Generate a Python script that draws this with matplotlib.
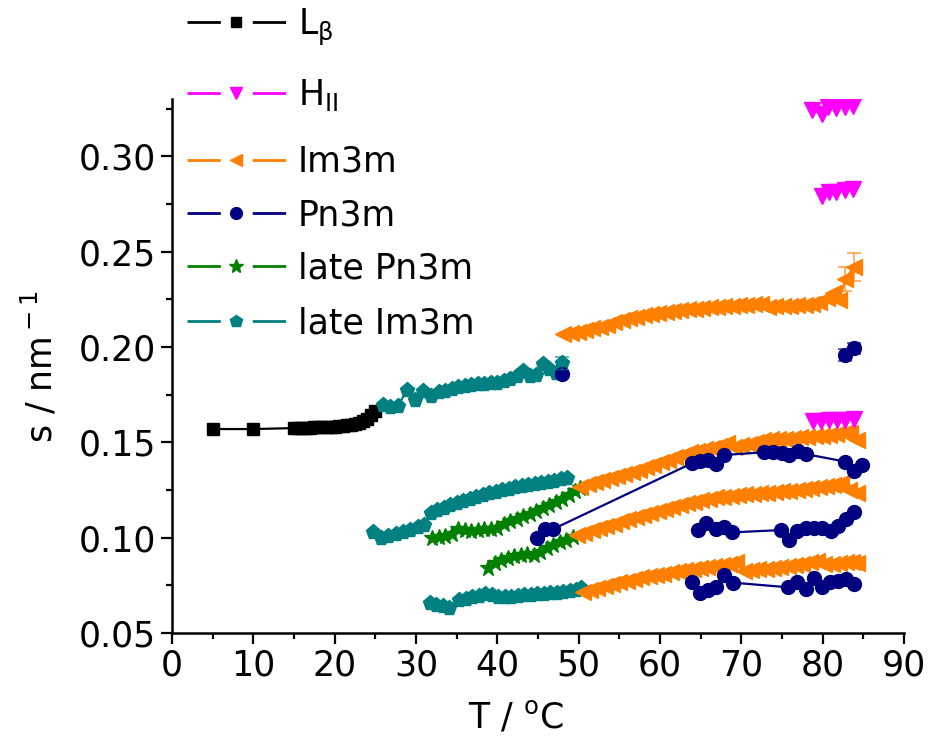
import matplotlib
matplotlib.use('Agg')
import matplotlib.pyplot as plt
from matplotlib.lines import Line2D
from matplotlib.legend_handler import HandlerTuple
from matplotlib.ticker import MultipleLocator

plt.rcParams['font.family'] = ['DejaVu Sans']
plt.rcParams['mathtext.fontset'] = 'dejavusans'
plt.rcParams['lines.scale_dashes'] = False

# L_beta
lb_T = [5, 10, 15, 15.5, 16, 16.5, 17, 17.5, 18, 18.5, 19, 19.5, 20, 20.5, 21, 21.5,
        22, 22.5, 23, 23.5, 24, 24.5, 25]
lb_s = [0.157, 0.157, 0.1575, 0.1576, 0.1577, 0.1577, 0.1578, 0.1579, 0.158, 0.158,
        0.1581, 0.1582, 0.1583, 0.1585, 0.1587, 0.1589, 0.1592, 0.1596, 0.160, 0.1612,
        0.1625, 0.1645, 0.1665]

# H_II (three reflections)
h1_T = [78.7, 79.9, 80.7, 81.7, 82.7, 83.7]
h1_s = [0.3244, 0.3223, 0.3258, 0.3253, 0.3261, 0.3265]
h2_T = [79.9, 80.8, 81.7, 82.7, 83.7]
h2_s = [0.2793, 0.2812, 0.2815, 0.2822, 0.2830]
h3_T = [78.8, 79.8, 80.8, 81.8, 82.8, 83.8]
h3_s = [0.1610, 0.1612, 0.1615, 0.1617, 0.1620, 0.1622]

# Im3m (four reflections)
im1_T = [48.1, 49, 49.9, 50.8, 51.7, 52.6, 53.5, 54.4, 55.3, 56.2, 57.1, 58, 58.9, 59.8,
         60.7, 61.6, 62.5, 63.4, 64.3, 65.2, 66.1, 67, 67.9, 68.8, 69.7, 70.6, 71.5,
         72.4, 73.3, 74.2, 75.1, 76, 76.9, 77.8, 78.7, 79.6, 80.5, 81.3, 82, 82.8, 83.8]
im1_s = [0.2068, 0.2072, 0.2078, 0.2090, 0.2100, 0.2108, 0.2118, 0.2130, 0.2140, 0.2152,
         0.2160, 0.2168, 0.2175, 0.2180, 0.2185, 0.2190, 0.2195, 0.2198, 0.2200, 0.2205,
         0.2210, 0.2212, 0.2215, 0.2218, 0.2220, 0.2222, 0.2225, 0.2228, 0.2212, 0.2215,
         0.2215, 0.2218, 0.2220, 0.2222, 0.2228, 0.2235, 0.2260, 0.2285, 0.2245, 0.2357,
         0.2420]
im2_T = [50.2, 51.1, 52, 52.9, 53.8, 54.7, 55.6, 56.5, 57.4, 58.3, 59.2, 60.1, 61, 61.9,
         62.8, 63.7, 64.6, 65.5, 66.4, 67.3, 68.2, 69.1, 70, 70.9, 71.8, 72.7, 73.6, 74.5,
         75.4, 76.3, 77.2, 78.1, 79, 79.9, 80.8, 81.7, 82.6, 83.4, 84.2]
im2_s = [0.1268, 0.1280, 0.1292, 0.1303, 0.1314, 0.1325, 0.1335, 0.1346, 0.1357, 0.1370,
         0.1382, 0.1395, 0.1408, 0.1421, 0.1435, 0.1448, 0.1457, 0.1465, 0.1473, 0.1481,
         0.1495, 0.1478, 0.1485, 0.1492, 0.1500, 0.1510, 0.1520, 0.1518, 0.1520, 0.1523,
         0.1527, 0.1530, 0.1533, 0.1536, 0.1540, 0.1543, 0.1547, 0.1550, 0.1513]
im3_T = [49.8, 50.7, 51.6, 52.5, 53.4, 54.3, 55.2, 56.1, 57, 57.9, 58.8, 59.7, 60.6, 61.5,
         62.4, 63.3, 64.2, 65.1, 66, 66.9, 67.8, 68.7, 69.6, 70.5, 71.4, 72.3, 73.2, 74.1,
         75, 75.9, 76.8, 77.7, 78.6, 79.5, 80.4, 81.3, 82.2, 83.2, 84.2]
im3_s = [0.1014, 0.1026, 0.1038, 0.1050, 0.1062, 0.1074, 0.1086, 0.1097, 0.1108, 0.1119,
         0.1130, 0.1140, 0.1150, 0.1160, 0.1170, 0.1180, 0.1189, 0.1198, 0.1205, 0.1211,
         0.1216, 0.1220, 0.1224, 0.1227, 0.1230, 0.1233, 0.1236, 0.1240, 0.1243, 0.1247,
         0.1251, 0.1255, 0.1259, 0.1264, 0.1269, 0.1275, 0.1287, 0.1250, 0.1235]
im4_T = [50.5, 51.4, 52.3, 53.2, 54.1, 55, 55.9, 56.8, 57.7, 58.6, 59.5, 60.4, 61.3, 62.2,
         63.1, 64, 64.9, 65.8, 66.7, 67.6, 68.5, 69.4, 70.3, 71.2, 72.1, 73, 73.9, 74.8,
         75.7, 76.6, 77.5, 78.4, 79.3, 80.2, 81.1, 82, 82.9, 83.6, 84.2]
im4_s = [0.0717, 0.0728, 0.0738, 0.0748, 0.0757, 0.0766, 0.0775, 0.0784, 0.0792, 0.0799,
         0.0806, 0.0812, 0.0818, 0.0824, 0.0829, 0.0834, 0.0839, 0.0844, 0.0849, 0.0855,
         0.0862, 0.0870, 0.0825, 0.0830, 0.0834, 0.0838, 0.0842, 0.0846, 0.0850, 0.0855,
         0.0862, 0.0870, 0.0880, 0.0860, 0.0864, 0.0867, 0.0870, 0.0872, 0.0868]

# Pn3m
pn1_T = [44.9, 45.9, 46.9, 63.9, 64.9, 65.9, 66.9, 67.9, 72.8, 73.9, 75.0, 75.9, 77.0,
         78.0, 82.8, 83.9, 84.8]
pn1_s = [0.0998, 0.1046, 0.1046, 0.1390, 0.1404, 0.1408, 0.1387, 0.1434, 0.1448, 0.1448,
         0.1446, 0.1434, 0.1457, 0.1438, 0.1399, 0.1352, 0.1381]
pn2_T = [64.7, 65.7, 66.9, 67.9, 68.9, 74.9, 75.9, 76.9, 77.9, 78.9, 79.9, 81.0, 81.9,
         82.9, 83.9]
pn2_s = [0.1040, 0.1075, 0.1046, 0.1058, 0.1028, 0.1040, 0.0988, 0.1037, 0.1049, 0.1049,
         0.1049, 0.1037, 0.1061, 0.1097, 0.1136]
pn3_T = [63.9, 64.9, 65.9, 66.9, 67.9, 69.0, 75.7, 76.9, 77.9, 78.9, 79.9, 80.9, 81.9,
         82.9, 83.9]
pn3_s = [0.0769, 0.0708, 0.0726, 0.0743, 0.0804, 0.0764, 0.0740, 0.0769, 0.0729, 0.0787,
         0.0740, 0.0769, 0.0774, 0.0782, 0.0757]
pn4_T = [48.0]
pn4_s = [0.1857]
pn5_T = [82.8, 83.8]
pn5_s = [0.1959, 0.1994]

# late Pn3m
lp1_T = [32.0, 32.8, 33.6, 34.4, 35.2, 36.0, 36.8, 37.6, 38.4, 39.2, 40.0, 40.8, 41.6,
         42.4, 43.2, 44.0, 44.8, 45.6, 46.4, 47.2, 48.0, 48.8, 49.6, 50.2]
lp1_s = [0.0998, 0.1003, 0.1010, 0.1018, 0.1046, 0.1040, 0.1036, 0.1042, 0.1045, 0.1048,
         0.1052, 0.1070, 0.1085, 0.1098, 0.1112, 0.1125, 0.1140, 0.1155, 0.1170, 0.1185,
         0.1205, 0.1225, 0.1245, 0.1260]
lp2_T = [38.9, 39.7, 40.5, 41.3, 42.1, 42.9, 43.7, 44.5, 45.3, 46.1, 46.9, 47.7, 48.5,
         49.3]
lp2_s = [0.0841, 0.0868, 0.0885, 0.0895, 0.0902, 0.0908, 0.0912, 0.0910, 0.0925, 0.0945,
         0.0960, 0.0975, 0.0990, 0.1005]

# late Im3m
li1_T = [25.9, 26.8, 27.8, 28.9, 29.9, 30.9, 31.9, 32.8, 33.6, 34.4, 35.2, 36, 36.8,
         37.6, 38.4, 39.2, 40, 40.8, 41.6, 42.4, 43.2, 44, 44.8, 45.6, 46.4, 47.2, 48]
li1_s = [0.1695, 0.1686, 0.1692, 0.1775, 0.1720, 0.1772, 0.1742, 0.1765, 0.1772, 0.1780,
         0.1790, 0.1795, 0.1800, 0.1805, 0.1805, 0.1810, 0.1812, 0.1820, 0.1830, 0.1850,
         0.1872, 0.1850, 0.1855, 0.1910, 0.1885, 0.1865, 0.1915]
li2_T = [24.7, 25.7, 26.6, 27.5, 28.4, 29.3, 30.2, 31.0, 31.8, 32.6, 33.4, 34.2, 35.0,
         35.8, 36.6, 37.4, 38.2, 39.0, 39.8, 40.6, 41.4, 42.2, 43.0, 43.8, 44.6, 45.4,
         46.2, 47.0, 47.8, 48.6]
li2_s = [0.1030, 0.0998, 0.1008, 0.1018, 0.1030, 0.1042, 0.1055, 0.1068, 0.1130, 0.1145,
         0.1158, 0.1170, 0.1182, 0.1192, 0.1202, 0.1212, 0.1222, 0.1232, 0.1242, 0.1250,
         0.1258, 0.1265, 0.1272, 0.1278, 0.1283, 0.1288, 0.1294, 0.1300, 0.1306, 0.1315]
li3_T = [31.7, 32.5, 33.3, 34.1, 35.3, 36.1, 36.9, 37.7, 38.5, 39.3, 40.1, 40.9, 41.7,
         42.5, 43.3, 44.1, 44.9, 45.7, 46.5, 47.3, 48.1, 48.9, 49.7, 50.3]
li3_s = [0.0656, 0.0648, 0.0640, 0.0632, 0.0672, 0.0680, 0.0688, 0.0696, 0.0702, 0.0700,
         0.0690, 0.0688, 0.0690, 0.0695, 0.0698, 0.0700, 0.0702, 0.0705, 0.0708, 0.0710,
         0.0714, 0.0718, 0.0725, 0.0735]

# the few visible error bars
err_T = [82.8, 83.8, 48.0, 82.8, 83.8, 48.0]
err_s = [0.2357, 0.2420, 0.1915, 0.1959, 0.1994, 0.1857]
err_e = [0.0065, 0.0075, 0.0035, 0.003, 0.003, 0.0015]
err_c = ['#FF8000', '#FF8000', '#008080', '#000080', '#000080', '#000080']

labels = [r'L$_\mathrm{β}$', r'H$_\mathrm{II}$', 'Im3m', 'Pn3m', 'late Pn3m', 'late Im3m']
colors = ['black', '#FF00FF', '#FF8000', '#000080', '#008000', '#008080']
markers = ['s', 'v', '<', 'o', '*', 'p']
msizes = [9, 11, 11, 10, 12, 11]
# vertical pixel position (from top) of each legend row
leg_rows = [27, 95, 162, 215, 268, 323]

fig = plt.figure(figsize=(9.29, 7.40), dpi=100)
ax = fig.add_axes([0.1851, 0.1446, 0.788, 0.7212])

groups = [
    [(lb_T, lb_s)],
    [(h1_T, h1_s), (h2_T, h2_s), (h3_T, h3_s)],
    [(im1_T, im1_s), (im2_T, im2_s), (im3_T, im3_s), (im4_T, im4_s)],
    [(pn1_T, pn1_s), (pn2_T, pn2_s), (pn3_T, pn3_s), (pn4_T, pn4_s), (pn5_T, pn5_s)],
    [(lp1_T, lp1_s), (lp2_T, lp2_s)],
    [(li1_T, li1_s), (li2_T, li2_s), (li3_T, li3_s)],
]
zorders = [3, 8, 6, 7, 5, 4]

for i, grp in enumerate(groups):
    for T, s in grp:
        ax.plot(T, s, color=colors[i], marker=markers[i], ms=msizes[i], lw=1.6,
                mec=colors[i], zorder=zorders[i])

for T, s, e, c in zip(err_T, err_s, err_e, err_c):
    ax.errorbar(T, s, yerr=e, fmt='none', ecolor=c, elinewidth=1.2, capsize=5,
                capthick=1.2, alpha=0.7, zorder=9)

ax.set_xlim(0, 90)
ax.set_ylim(0.05, 0.33)
ax.xaxis.set_major_locator(MultipleLocator(10))
ax.xaxis.set_minor_locator(MultipleLocator(5))
ax.yaxis.set_major_locator(MultipleLocator(0.05))
ax.yaxis.set_minor_locator(MultipleLocator(0.025))
ax.yaxis.set_major_formatter(plt.FormatStrFormatter('%.2f'))

for side in ['top', 'right']:
    ax.spines[side].set_visible(False)
for side in ['left', 'bottom']:
    ax.spines[side].set_linewidth(1.8)
ax.tick_params(which='major', direction='out', length=8, width=1.6, labelsize=25)
ax.tick_params(which='minor', direction='out', length=4.5, width=1.6)

ax.set_xlabel(r'T / $^{\rm o}$C', fontsize=25, labelpad=12)
ax.xaxis.label.set_x(0.47)
ax.set_ylabel(r's / nm$^{\rm -1}$', fontsize=25, labelpad=14)

# one single-row legend per phase so the rows sit where the reference has them
for lab, c, m, ms, ypx in zip(labels, colors, markers, msizes, leg_rows):
    seg = Line2D([], [], color=c, lw=2, dashes=(24, 23))
    mk = Line2D([], [], color=c, ls='none', marker=m, ms=ms * 0.85)
    fig.legend([(seg, mk)], [lab], handler_map={tuple: HandlerTuple(ndivide=1)},
               loc='center left', bbox_to_anchor=(187 / 929, 1 - ypx / 740),
               frameon=False, fontsize=25, handlelength=2.85, handletextpad=0.35,
               borderpad=0, borderaxespad=0, numpoints=1)

fig.savefig('out.png', dpi=100)
